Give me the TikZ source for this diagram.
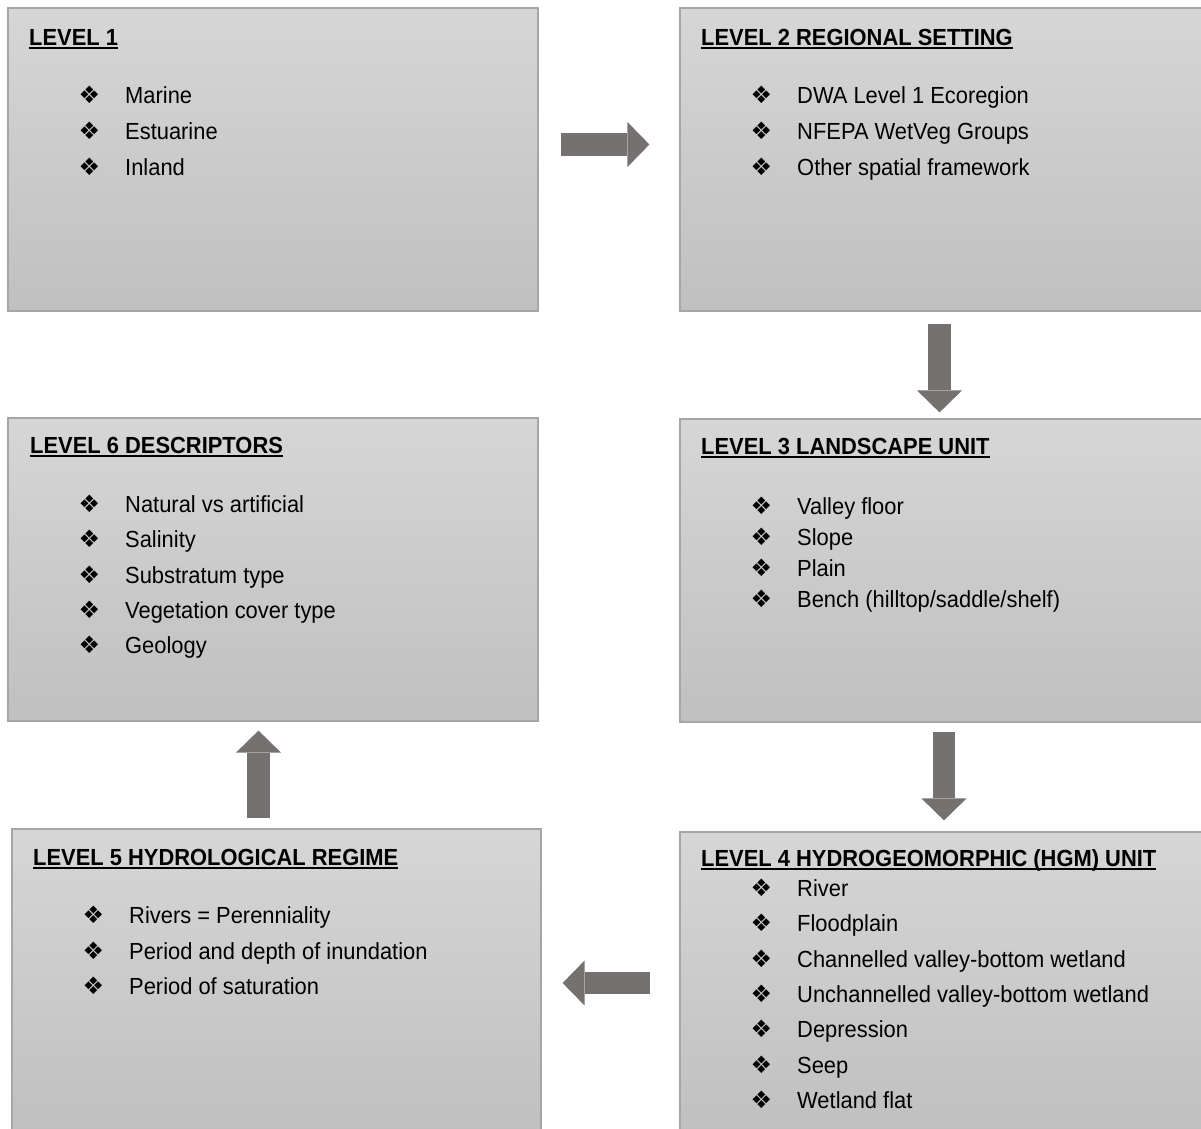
\documentclass[tikz,border=0pt]{standalone}
\usepackage{fontspec}
\setmainfont{Liberation Sans}[FakeStretch=0.94]
\newfontfamily\bulfont{DejaVu Sans}
\usetikzlibrary{arrows.meta}
\definecolor{boxtop}{RGB}{214,214,214}
\definecolor{boxbot}{RGB}{192,192,192}
\definecolor{boxline}{RGB}{166,166,166}
\definecolor{arrgray}{RGB}{118,113,113}
\newcommand{\ulhead}[1]{\setbox0\hbox{#1}\rlap{\rule[-3.5pt]{\wd0}{1.8pt}}\box0}
\newcommand{\blt}{\makebox[45pt][l]{\kern-1.5pt\bulfont\fontsize{24}{24}\selectfont ❖}}

\begin{document}
\begin{tikzpicture}[
  x=1pt,y=-1pt,
  lvl/.style={draw=boxline,line width=1.2pt,top color=boxtop,bottom color=boxbot,inner sep=0pt},
  ttl/.style={anchor=base west,inner sep=0pt,font=\bfseries\fontsize{23.3}{28}\selectfont},
  lst/.style={anchor=base west,inner sep=0pt,align=left,font=\fontsize{23.3}{#1}\selectfont},
  blk/.style={-{Triangle[width=45pt,length=22pt,line width=0pt]},line width=22.5pt,arrgray}
]
\useasboundingbox (0,0) rectangle (1201,1128);

% Boxes
\node[lvl,minimum width=530pt,minimum height=303pt] (box1) at (273,159.5) {};
\node[lvl,minimum width=522pt,minimum height=303pt] (box2) at (941,159.5) {};
\node[lvl,minimum width=530pt,minimum height=303pt] (box6) at (273,569.5) {};
\node[lvl,minimum width=522pt,minimum height=303pt] (box3) at (941,570.5) {};
\node[lvl,minimum width=529pt,minimum height=301pt] (box5) at (276.5,979.5) {};
\node[lvl,minimum width=522pt,minimum height=298pt] (box4) at (941,981) {};

% Titles
\node[ttl] (t1) at (29,45) {\ulhead{LEVEL 1}};
\node[ttl] (t2) at (701,45) {\ulhead{LEVEL 2 REGIONAL SETTING}};
\node[ttl] (t6) at (30,453) {\ulhead{LEVEL 6 DESCRIPTORS}};
\node[ttl] (t3) at (701,454.5) {\ulhead{LEVEL 3 LANDSCAPE UNIT}};
\node[ttl] (t5) at (33,865.5) {\ulhead{LEVEL 5 HYDROLOGICAL REGIME}};
\node[ttl] (t4) at (701,866.5) {\ulhead{LEVEL 4 HYDROGEOMORPHIC (HGM) UNIT}};

% Lists (placed at the baseline of their last line)
\node[lst=36] (l1) at (80,175.5) {\blt Marine\\\blt Estuarine\\\blt Inland};
\node[lst=36] (l2) at (752,175.5) {\blt DWA Level 1 Ecoregion\\\blt NFEPA WetVeg Groups\\\blt Other spatial framework};
\node[lst=35.3] (l6) at (80,653.7) {\blt Natural vs artificial\\\blt Salinity\\\blt Substratum type\\\blt Vegetation cover type\\\blt Geology};
\node[lst=31] (l3) at (752,607.5) {\blt Valley floor\\\blt Slope\\\blt Plain\\\blt Bench (hilltop/saddle/shelf)};
\node[lst=35.5] (l5) at (84,994.5) {\blt Rivers = Perenniality\\\blt Period and depth of inundation\\\blt Period of saturation};
\node[lst=35.3] (l4) at (752,1108.3) {\blt River\\\blt Floodplain\\\blt Channelled valley-bottom wetland\\\blt Unchannelled valley-bottom wetland\\\blt Depression\\\blt Seep\\\blt Wetland flat};

% Block arrows
\draw[blk,shorten <=22pt,shorten >=30pt] ([yshift=15pt]box1.east) -- ([yshift=15pt]box1.east -| box2.west);
\draw[blk,shorten <=12pt,shorten >=6pt] ([xshift=-1.5pt]box2.south) -- ([xshift=-1.5pt]box2.south |- box3.north);
\draw[blk,shorten <=9pt,shorten >=11pt] ([xshift=3pt]box3.south) -- ([xshift=3pt]box3.south |- box4.north);
\draw[blk,shorten <=29pt,shorten >=21pt] ([yshift=-2pt]box4.west) -- ([yshift=-2pt]box4.west -| box5.east);
\draw[blk,shorten <=10pt,shorten >=9pt] ([xshift=-18pt]box5.north) -- ([xshift=-18pt]box5.north |- box6.south);
\end{tikzpicture}
\end{document}
